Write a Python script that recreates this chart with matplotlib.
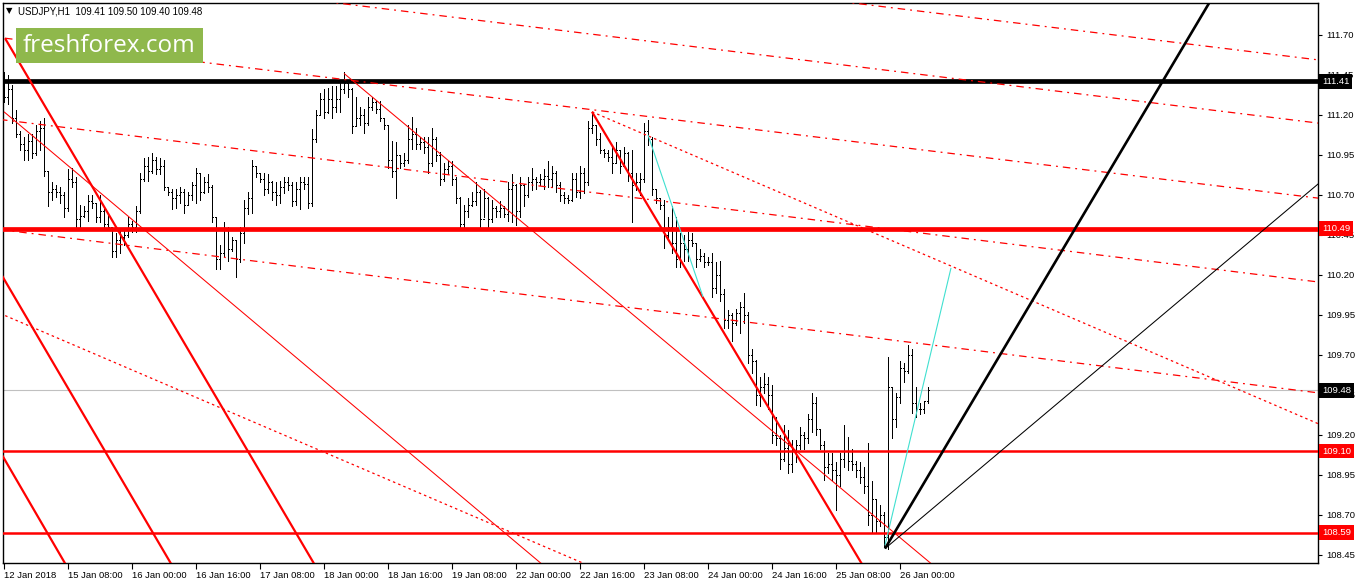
import numpy as np
import matplotlib
matplotlib.use('Agg')
import matplotlib.pyplot as plt
from matplotlib.patches import Rectangle

plt.rcParams['font.family'] = ['Liberation Sans', 'DejaVu Sans']

# USDJPY H1 bars, 12 Jan 2018 16:00 .. 26 Jan 2018 07:00
highs = [111.47, 111.45, 111.39, 111.23, 111.10, 111.06, 111.08, 111.08, 111.14, 111.16,
         111.18, 110.85, 110.78, 110.76, 110.75, 110.72, 110.86, 110.87, 110.81, 110.64,
         110.63, 110.70, 110.70, 110.65, 110.70, 110.61, 110.58, 110.50, 110.46, 110.49,
         110.49, 110.56, 110.54, 110.63, 110.84, 110.93, 110.94, 110.96, 110.94, 110.93,
         110.92, 110.75, 110.74, 110.74, 110.75, 110.74, 110.72, 110.78, 110.87, 110.84,
         110.81, 110.83, 110.76, 110.56, 110.39, 110.53, 110.50, 110.44, 110.42, 110.50,
         110.67, 110.72, 110.92, 110.88, 110.84, 110.84, 110.83, 110.79, 110.78, 110.79,
         110.81, 110.81, 110.78, 110.78, 110.81, 110.81, 110.81, 111.11, 111.23, 111.34,
         111.36, 111.37, 111.38, 111.38, 111.40, 111.47, 111.42, 111.37, 111.31, 111.25,
         111.24, 111.31, 111.31, 111.29, 111.29, 111.18, 111.14, 111.04, 111.03, 110.95,
         110.96, 111.14, 111.19, 111.12, 111.06, 111.06, 111.06, 111.12, 111.06, 110.97,
         110.90, 110.91, 110.91, 110.81, 110.69, 110.64, 110.68, 110.72, 110.78, 110.73,
         110.74, 110.69, 110.67, 110.63, 110.66, 110.63, 110.78, 110.83, 110.77, 110.81,
         110.77, 110.81, 110.87, 110.81, 110.83, 110.86, 110.91, 110.88, 110.85, 110.78,
         110.72, 110.70, 110.84, 110.84, 110.88, 110.87, 111.16, 111.22, 111.14, 111.09,
         110.99, 110.98, 111.00, 111.03, 110.98, 111.00, 110.97, 110.98, 110.84, 110.84,
         111.15, 111.17, 111.06, 110.74, 110.68, 110.67, 110.56, 110.63, 110.56, 110.46,
         110.45, 110.47, 110.46, 110.40, 110.36, 110.34, 110.31, 110.34, 110.28, 110.29,
         110.11, 109.98, 109.96, 109.99, 110.03, 110.09, 109.97, 109.74, 109.67, 109.56,
         109.59, 109.56, 109.51, 109.31, 109.20, 109.26, 109.23, 109.17, 109.17, 109.25,
         109.22, 109.33, 109.46, 109.44, 109.24, 109.16, 109.09, 109.09, 109.03, 109.09,
         109.26, 109.19, 109.11, 109.04, 109.03, 109.00, 109.15, 108.91, 108.80, 108.76,
         108.72, 109.69, 109.50, 109.46, 109.66, 109.65, 109.76, 109.74, 109.50, 109.40,
         109.41, 109.50]
lows = [111.28, 111.27, 111.15, 111.06, 110.98, 110.92, 110.92, 110.93, 110.95, 110.98,
        110.82, 110.63, 110.67, 110.69, 110.65, 110.56, 110.60, 110.75, 110.50, 110.50,
        110.56, 110.54, 110.62, 110.53, 110.53, 110.48, 110.48, 110.31, 110.31, 110.34,
        110.39, 110.44, 110.47, 110.47, 110.59, 110.79, 110.79, 110.84, 110.83, 110.83,
        110.73, 110.70, 110.61, 110.62, 110.65, 110.59, 110.64, 110.67, 110.65, 110.67,
        110.71, 110.72, 110.53, 110.24, 110.24, 110.32, 110.29, 110.35, 110.19, 110.28,
        110.40, 110.58, 110.59, 110.81, 110.78, 110.70, 110.71, 110.67, 110.64, 110.65,
        110.71, 110.73, 110.63, 110.64, 110.61, 110.74, 110.62, 110.63, 111.03, 111.20,
        111.18, 111.21, 111.18, 111.22, 111.22, 111.34, 111.31, 111.09, 111.13, 111.14,
        111.09, 111.14, 111.23, 111.21, 111.16, 111.11, 110.87, 110.81, 110.68, 110.87,
        110.88, 110.90, 110.99, 110.99, 110.99, 110.96, 110.84, 110.88, 110.91, 110.76,
        110.79, 110.83, 110.76, 110.65, 110.48, 110.50, 110.56, 110.63, 110.64, 110.50,
        110.56, 110.50, 110.53, 110.56, 110.56, 110.56, 110.54, 110.53, 110.51, 110.56,
        110.63, 110.69, 110.73, 110.74, 110.76, 110.74, 110.75, 110.75, 110.72, 110.66,
        110.65, 110.65, 110.66, 110.69, 110.68, 110.71, 110.76, 111.09, 111.01, 110.96,
        110.94, 110.91, 110.84, 110.90, 110.84, 110.88, 110.79, 110.53, 110.73, 110.70,
        110.78, 111.01, 110.70, 110.65, 110.61, 110.37, 110.42, 110.34, 110.25, 110.25,
        110.29, 110.29, 110.38, 110.25, 110.29, 110.25, 110.26, 110.06, 110.09, 110.04,
        109.87, 109.87, 109.79, 109.89, 109.84, 109.90, 109.65, 109.59, 109.39, 109.38,
        109.46, 109.36, 109.15, 109.14, 108.99, 109.04, 108.96, 108.97, 109.03, 109.11,
        109.11, 109.15, 109.22, 109.20, 109.11, 108.92, 108.96, 108.92, 108.73, 108.88,
        109.00, 108.98, 108.98, 108.94, 108.90, 108.84, 108.64, 108.59, 108.59, 108.63,
        108.50, 108.49, 109.18, 109.25, 109.40, 109.53, 109.59, 109.34, 109.31, 109.33,
        109.34, 109.40]
closes = [111.31, 111.36, 111.18, 111.08, 111.02, 110.98, 111.04, 110.96, 111.10, 111.12,
          110.85, 110.72, 110.74, 110.72, 110.70, 110.62, 110.80, 110.78, 110.55, 110.57,
          110.60, 110.66, 110.65, 110.56, 110.60, 110.52, 110.50, 110.35, 110.42, 110.44,
          110.45, 110.52, 110.50, 110.60, 110.80, 110.88, 110.85, 110.92, 110.86, 110.88,
          110.75, 110.72, 110.68, 110.70, 110.72, 110.64, 110.70, 110.76, 110.84, 110.72,
          110.78, 110.75, 110.56, 110.30, 110.34, 110.48, 110.36, 110.42, 110.30, 110.46,
          110.62, 110.68, 110.88, 110.84, 110.80, 110.74, 110.78, 110.72, 110.70, 110.75,
          110.78, 110.76, 110.66, 110.74, 110.78, 110.77, 110.65, 111.05, 111.20, 111.30,
          111.22, 111.30, 111.25, 111.30, 111.36, 111.40, 111.36, 111.13, 111.18, 111.20,
          111.15, 111.25, 111.28, 111.24, 111.18, 111.14, 110.92, 110.85, 110.95, 110.90,
          110.92, 111.05, 111.08, 111.02, 111.03, 111.00, 110.90, 111.05, 110.95, 110.80,
          110.86, 110.88, 110.80, 110.68, 110.52, 110.60, 110.64, 110.66, 110.72, 110.55,
          110.68, 110.55, 110.62, 110.60, 110.62, 110.58, 110.74, 110.76, 110.60, 110.76,
          110.70, 110.78, 110.80, 110.78, 110.80, 110.82, 110.80, 110.84, 110.76, 110.70,
          110.68, 110.67, 110.80, 110.72, 110.84, 110.78, 111.12, 111.14, 111.05, 110.98,
          110.96, 110.94, 110.90, 110.98, 110.88, 110.96, 110.84, 110.76, 110.78, 110.80,
          111.10, 111.05, 110.74, 110.68, 110.64, 110.45, 110.50, 110.40, 110.30, 110.40,
          110.36, 110.42, 110.40, 110.30, 110.32, 110.28, 110.28, 110.12, 110.20, 110.08,
          109.92, 109.95, 109.90, 109.96, 110.00, 109.95, 109.70, 109.66, 109.45, 109.50,
          109.52, 109.45, 109.20, 109.18, 109.05, 109.12, 109.02, 109.10, 109.14, 109.20,
          109.18, 109.30, 109.40, 109.24, 109.14, 109.00, 109.02, 108.98, 108.95, 109.05,
          109.10, 109.04, 109.02, 108.98, 108.94, 108.88, 108.70, 108.80, 108.66, 108.70,
          108.56, 109.50, 109.30, 109.44, 109.62, 109.60, 109.70, 109.40, 109.36, 109.36,
          109.41, 109.48]
opens = [111.40] + closes[:-1]

date_ticks = list(range(0, 225, 16))
date_labels = ['12 Jan 2018', '15 Jan 08:00', '16 Jan 00:00', '16 Jan 16:00', '17 Jan 08:00',
               '18 Jan 00:00', '18 Jan 16:00', '19 Jan 08:00', '22 Jan 00:00', '22 Jan 16:00',
               '23 Jan 08:00', '24 Jan 00:00', '24 Jan 16:00', '25 Jan 08:00', '26 Jan 00:00']
price_ticks = [108.45, 108.70, 108.95, 109.20, 109.45, 109.70, 109.95,
               110.20, 110.45, 110.70, 110.95, 111.20, 111.45, 111.70]

# analyst objects: (bar index, price) end points
red_steep = [[(0.25, 111.68), (80, 108.29)],
             [(-2, 110.26), (44, 108.30)],
             [(-2, 109.14), (18, 108.28)],
             [(147, 111.22), (216, 108.33)]]
red_thin = [[(0, 111.22), (137, 108.34)],
            [(85, 111.46), (234, 108.35)]]
red_dashdot = [[(209, 111.91), (330, 111.54)],
               [(80, 111.91), (330, 111.145)],
               [(0.25, 111.68), (330, 110.676)],
               [(-1, 111.172), (330, 110.152)],
               [(-1, 110.484), (330, 109.459)]]
red_dotted = [[(147, 111.22), (330, 109.255)],
              [(-1, 109.96), (146, 108.386)]]
cyan_lines = [[(161, 111.075), (174.75, 110.063)],
              [(220.25, 108.51), (236.75, 110.244)]]
fan_thick = [(220.25, 108.49), (302, 111.93)]
fan_thin = [(220.25, 108.49), (330, 110.80)]

W, H = 1358, 584
fig = plt.figure(figsize=(W / 100, H / 100), dpi=100)
ax = fig.add_axes([3 / W, 21 / H, 1315 / W, 560 / H])
ax.set_xlim(-0.25, 328.5)
ax.set_ylim(108.40, 111.90)

# horizontal levels
ax.axhline(109.48, color='#c0c0c0', lw=0.8, zorder=1)
ax.axhline(111.41, color='black', lw=3.4, zorder=4)
ax.axhline(110.49, color='red', lw=3.4, zorder=4)
ax.axhline(109.10, color='red', lw=1.8, zorder=4)
ax.axhline(108.59, color='red', lw=1.8, zorder=4)

# OHLC bars
x = np.arange(len(highs))
ax.vlines(x, lows, highs, color='black', lw=0.72, antialiased=False, zorder=3)
ax.hlines(opens, x - 0.3, x, color='black', lw=0.72, antialiased=False, zorder=3)
ax.hlines(closes, x, x + 0.3, color='black', lw=0.72, antialiased=False, zorder=3)

def draw(seg, **kw):
    (x0, y0), (x1, y1) = seg
    ax.plot([x0, x1], [y0, y1], solid_capstyle='butt', **kw)

for seg in red_steep:
    draw(seg, color='red', lw=1.6, zorder=5)
for seg in red_thin:
    draw(seg, color='red', lw=0.75, zorder=5)
for seg in red_dashdot:
    draw(seg, color='red', lw=0.9, ls=(0, (6, 4, 1.5, 4)), zorder=5)
for seg in red_dotted:
    draw(seg, color='red', lw=0.9, ls=(0, (2, 2.5)), zorder=5)
for seg in cyan_lines:
    draw(seg, color='#40e0d0', lw=0.8, zorder=5)
draw(fan_thick, color='black', lw=1.9, zorder=5)
draw(fan_thin, color='black', lw=0.75, zorder=5)

for s in ax.spines.values():
    s.set_color('black')
    s.set_linewidth(1.0)

ax.yaxis.tick_right()
ax.set_yticks(price_ticks)
ax.set_yticklabels(['%.2f' % p for p in price_ticks])
ax.tick_params(axis='y', direction='out', length=3, width=0.8, pad=3, labelsize=6.8)
ax.set_xticks(date_ticks)
ax.set_xticklabels(date_labels)
ax.tick_params(axis='x', direction='out', length=4, width=0.8, pad=1.5, labelsize=6.8)
for lab in ax.get_xticklabels():
    lab.set_ha('left')

# price boxes on the right scale
level_boxes = [(111.41, 'black'), (110.49, 'red'), (109.48, 'black'), (109.10, 'red'), (108.59, 'red')]
tr = ax.get_yaxis_transform()
for price, col in level_boxes:
    ax.text(1 + 4 / 1315, price, '%.2f' % price, transform=tr, fontsize=6.8, color='white',
            ha='left', va='center', zorder=10, clip_on=False,
            bbox=dict(boxstyle='square,pad=0.3', fc=col, ec='none'))

# header and logo
fig.text(6 / W, 1 - 11 / H, '\u25bc', fontsize=6, va='center', ha='left',
         family=['DejaVu Sans'])
fig.text(18 / W, 1 - 11 / H, 'USDJPY,H1  109.41 109.50 109.40 109.48', fontsize=7,
         va='center', ha='left')
fig.patches.append(Rectangle((16 / W, 1 - 63 / H), 187 / W, 35 / H, transform=fig.transFigure,
                             fc='#8fb84c', ec='none', zorder=6))
fig.text(109 / W, 1 - 46 / H, 'freshforex.com', fontsize=17.5, color='white', ha='center',
         va='center', family=['Open Sans', 'DejaVu Sans'], zorder=7)

fig.savefig('out.png', dpi=100, facecolor='white')
